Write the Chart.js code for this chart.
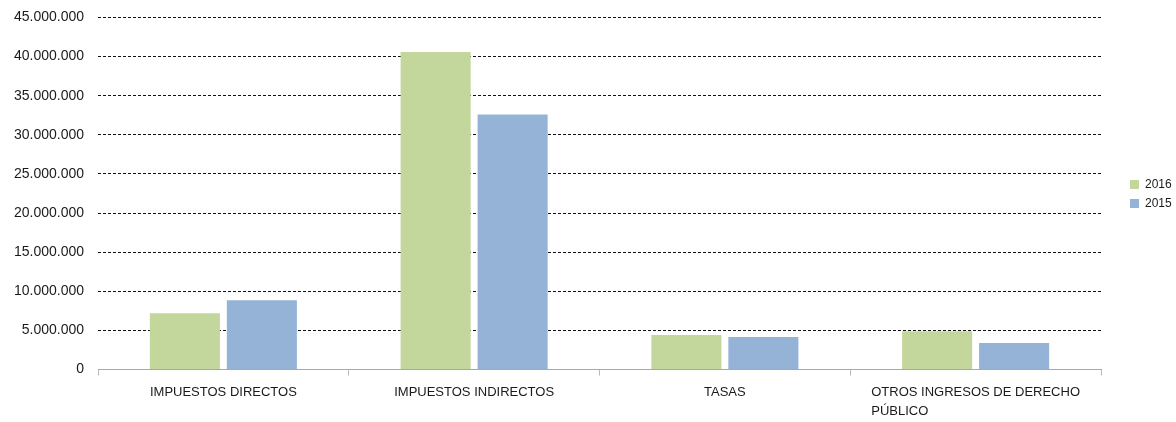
<!DOCTYPE html>
<html>
<head>
<meta charset="utf-8">
<script src="https://cdn.jsdelivr.net/npm/chart.js@4/dist/chart.umd.min.js"></script>
<style>
  html, body { margin: 0; padding: 0; background: #fff; }
  #wrap { width: 1176px; height: 422px; }
</style>
</head>
<body>
<div id="wrap"><canvas id="chart" width="1176" height="422"></canvas></div>
<script>
const categories = ['IMPUESTOS DIRECTOS', 'IMPUESTOS INDIRECTOS', 'TASAS', ['OTROS INGRESOS DE DERECHO', 'PÚBLICO']];
const values2016 = [7200000, 40600000, 4400000, 4900000];
const values2015 = [8850000, 32600000, 4150000, 3400000];
const seriesNames = ['2016', '2015'];
// Excel-like colors
const seriesColors = ['#C3D69B', '#95B3D7'];

const labelFont = { family: '"Liberation Sans", Arial, sans-serif', size: 13, lineHeight: 1.5 };

// pad the second line with spaces so it lines up with the left edge of the first line
function padLines(lines) {
  if (!Array.isArray(lines)) return lines;
  const c = document.createElement('canvas').getContext('2d');
  c.font = labelFont.size + 'px ' + labelFont.family;
  const w = c.measureText(lines[0]).width;
  return lines.map(l => {
    let s = l;
    while (c.measureText(s + ' ').width <= w + 2) s += ' ';
    return s;
  });
}

function fmt(v) {
  return v.toString().replace(/\B(?=(\d{3})+(?!\d))/g, '.');
}

// nudge the legend box to where it sits in the original
const legendShift = {
  id: 'legendShift',
  afterUpdate(chart) {
    const lg = chart.legend;
    if (!lg) return;
    lg.left += 22; lg.right += 22;
    lg.top -= 17; lg.bottom -= 17;
  }
};

const ctx = document.getElementById('chart').getContext('2d');
new Chart(ctx, {
  type: 'bar',
  data: {
    labels: categories.map(padLines),
    datasets: [{
      label: seriesNames[0],
      data: values2016,
      backgroundColor: seriesColors[0],
      barPercentage: 0.91,
      categoryPercentage: 0.614
    }, {
      label: seriesNames[1],
      data: values2015,
      backgroundColor: seriesColors[1],
      barPercentage: 0.91,
      categoryPercentage: 0.614
    }]
  },
  options: {
    responsive: false,
    animation: false,
    layout: { padding: 0 },
    scales: {
      x: {
        grid: {
          offset: true,
          drawOnChartArea: false,
          tickLength: 6,
          color: '#b8b8b8'
        },
        border: { color: '#a8a8a8', dash: [3, 2] },
        ticks: {
          color: '#1a1a1a',
          font: labelFont,
          padding: 7,
          autoSkip: false,
          maxRotation: 0,
          minRotation: 0
        },
        afterFit: function (scale) {
          scale.paddingRight = 75;
          scale.height = 52.5;
        }
      },
      y: {
        min: 0,
        max: 45000000,
        ticks: {
          stepSize: 5000000,
          color: '#1a1a1a',
          font: { family: '"Liberation Sans", Arial, sans-serif', size: 14 },
          padding: 14,
          callback: v => fmt(v)
        },
        grid: {
          drawTicks: false,
          color: c => (c.tick && c.tick.value === 0) ? 'rgba(0,0,0,0)' : '#111'
        },
        border: { display: false, dash: [3, 2] },
        afterFit: function (scale) {
          scale.width = 98;
          scale.paddingTop = 17.5;
        }
      }
    },
    plugins: {
      legend: {
        position: 'right',
        align: 'center',
        labels: {
          boxWidth: 9,
          boxHeight: 9,
          padding: 7,
          color: '#1a1a1a',
          font: { family: '"Liberation Sans", Arial, sans-serif', size: 12 }
        }
      },
      tooltip: { enabled: false }
    }
  },
  plugins: [legendShift]
});
</script>
</body>
</html>
